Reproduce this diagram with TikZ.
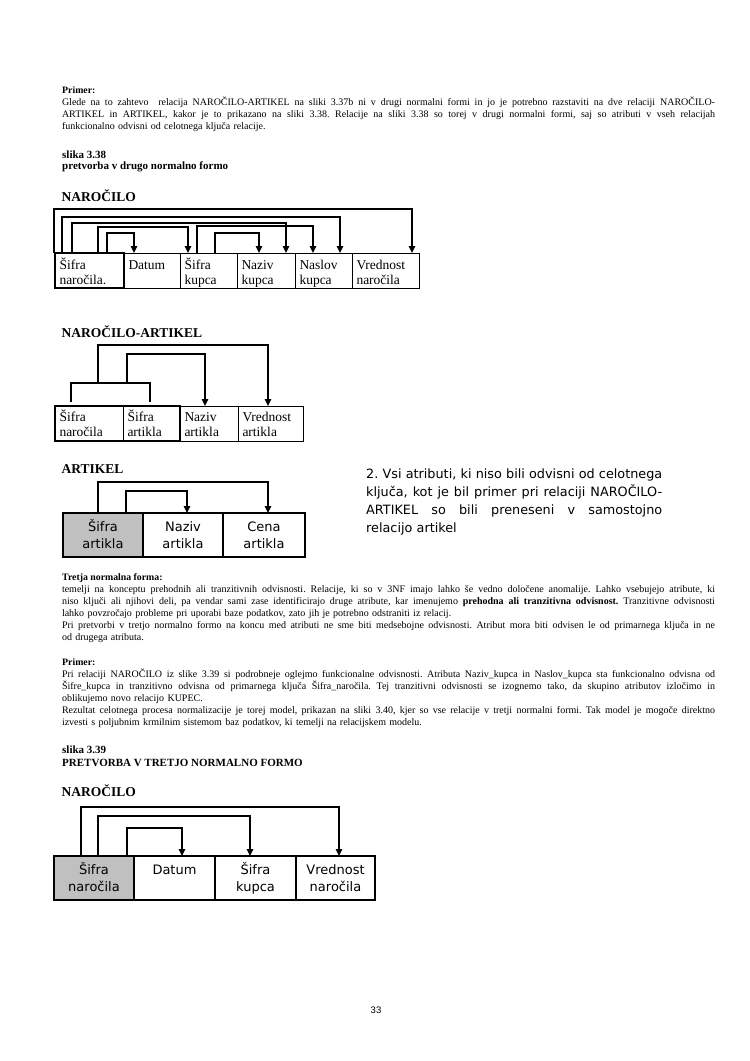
\documentclass[tikz,border=0pt]{standalone}
\usepackage{fontspec}
\setmainfont{Liberation Serif}
\newfontfamily\tah{DejaVu Sans}
\newfontfamily\ari{Liberation Sans}
\usetikzlibrary{arrows.meta,calc}
\definecolor{cellgray}{RGB}{192,192,192}
\newcommand\jline[1]{{\frenchspacing\spaceskip=\fontdimen2\font plus 1fill minus \fontdimen4\font\makebox[653pt][s]{#1}}}
\newcommand\jrline[1]{{\frenchspacing\spaceskip=\fontdimen2\font plus 1fill minus \fontdimen4\font\makebox[296pt][s]{#1}}}
\tikzset{
  body/.style={anchor=base west, inner sep=0pt, outer sep=0pt, text width=653pt, align=left, font=\fontsize{10}{12}\selectfont},
  hsmall/.style={anchor=base west, inner sep=0pt, font=\fontsize{9.8}{12}\selectfont\bfseries},
  head/.style={anchor=base west, inner sep=0pt, font=\fontsize{11}{12}\selectfont\bfseries},
  title/.style={anchor=base west, inner sep=0pt, font=\fontsize{13.5}{16}\selectfont\bfseries},
  rtext/.style={anchor=base west, inner sep=0pt, text width=296pt, align=left, font=\tah\fontsize{12.8}{18}\selectfont},
  cellT/.style={draw, line width=0.8pt, anchor=north west, outer sep=0pt, inner xsep=4.5pt, inner ysep=0pt, text height=16pt, text depth=19pt, align=left, font=\fontsize{13.5}{15}\selectfont},
  cellS/.style={draw, line width=1.2pt, anchor=north west, outer sep=0pt, inner xsep=0pt, inner ysep=0pt, text height=18.5pt, text depth=25.5pt, align=center, font=\tah\fontsize{13}{16.6}\selectfont},
  keycell/.style={fill=cellgray},
  conn/.style={line width=1.5pt, -{Triangle[width=6.5pt,length=7pt]}},
  link/.style={line width=1.5pt},
  thickbox/.style={draw, line width=2.8pt},
}
\begin{document}
\begin{tikzpicture}[x=1pt,y=-1pt]
\path[use as bounding box, fill=white] (0,0) rectangle (750,1061);

% ---------- top paragraph ----------
\node[hsmall] (pr1) at (62,93) {Primer:};
\node[body] (p1) at (62,105) {\jline{Glede na to zahtevo\ \ relacija NAROČILO-ARTIKEL na sliki 3.37b ni v drugi normalni formi in jo je potrebno razstaviti na dve relaciji NAROČILO-}\\
\jline{ARTIKEL in ARTIKEL, kakor je to prikazano na sliki 3.38. Relacije na sliki 3.38 so torej v drugi normalni formi, saj so atributi v vseh relacijah}\\
funkcionalno odvisni od celotnega ključa relacije.};

\node[head] (h1) at (62,158) {slika 3.38};
\node[head] (h2) at (62,169.5) {pretvorba v drugo normalno formo};

% ---------- diagram 1: NAROCILO ----------
\node[title] (t1) at (61.5,201) {NAROČILO};
\node[cellT, text width=60pt] (c1) at (55,253) {Šifra\\naročila.};
\node[cellT, text width=47pt] (c2) at (124,253) {Datum};
\node[cellT, text width=48pt] (c3) at (180,253) {Šifra\\kupca};
\node[cellT, text width=49pt] (c4) at (237,253) {Naziv\\kupca};
\node[cellT, text width=48pt] (c5) at (295,253) {Naslov\\kupca};
\node[cellT, text width=58pt] (c6) at (352,253) {Vrednost\\naročila};
\draw[thickbox] (c1.north west) rectangle (c1.south east);

\draw[conn] ($(c1.north west)+(-1,0)$) -- ++(0,-44) -| ($(c6.north west)+(60,0)$);
\draw[conn] ($(c1.north west)+(7,0)$) -- ++(0,-36) -| ($(c5.north west)+(45,0)$);
\draw[conn] ($(c1.north west)+(17,0)$) -- ++(0,-30) -| ($(c4.north west)+(49,0)$);
\draw[conn] ($(c1.north west)+(43,0)$) -- ++(0,-26) -| ($(c3.north west)+(8,0)$);
\draw[conn] ($(c1.north west)+(52,0)$) -- ++(0,-20) -| ($(c2.north west)+(10,0)$);
\draw[conn] ($(c3.north west)+(17,0)$) -- ++(0,-27) -| ($(c5.north west)+(18,0)$);
\draw[conn] ($(c3.north west)+(35,0)$) -- ++(0,-20) -| ($(c4.north west)+(22,0)$);

% ---------- diagram 2: NAROCILO-ARTIKEL ----------
\node[title] (t2) at (61.5,337) {NAROČILO-ARTIKEL};
\node[cellT, text width=59pt, text height=15pt, text depth=20pt] (d1) at (55,406) {Šifra\\naročila};
\node[cellT, text width=48pt, text height=15pt, text depth=20pt] (d2) at (123,406) {Šifra\\artikla};
\node[cellT, text width=49pt, text height=15pt, text depth=20pt] (d3) at (180,406) {Naziv\\artikla};
\node[cellT, text width=56pt, text height=15pt, text depth=20pt] (d4) at (238,406) {Vrednost\\artikla};
\draw[thickbox] (d1.north west) rectangle (d2.south east);

\coordinate (bl) at ($(d1.north west)+(16,-4)$);
\coordinate (brr) at ($(d2.north west)+(27,-4)$);
\coordinate (bj1) at ($(bl)+(27,-19)$);
\coordinate (bj2) at ($(bl)+(56,-19)$);
\draw[link] (bl) -- ++(0,-19) -| (brr);
\draw[conn] (bj1) -- ++(0,-38) -| ($(d4.north west)+(30,0)$);
\draw[conn] (bj2) -- ++(0,-29) -| ($(d3.north west)+(25,0)$);

% ---------- diagram 3: ARTIKEL ----------
\node[title] (t3) at (61.5,473.5) {ARTIKEL};
\node[cellS, keycell, text width=80pt] (e1) at (63,513) {Šifra\\artikla};
\node[cellS, text width=80pt] (e2) at (143,513) {Naziv\\artikla};
\node[cellS, text width=82pt] (e3) at (223,513) {Cena\\artikla};
\draw[conn] ($(e1.north west)+(35,0)$) -- ++(0,-31) -| ($(e3.north west)+(45,0)$);
\draw[conn] ($(e1.north west)+(63,0)$) -- ++(0,-22) -| ($(e2.north west)+(44,0)$);

\node[rtext] (r1) at (366,478) {\jrline{2. Vsi atributi, ki niso bili odvisni od celotnega}\\
\jrline{ključa, kot je bil primer pri relaciji NAROČILO-}\\
\jrline{ARTIKEL so bili preneseni v samostojno}\\
relacijo artikel};

% ---------- Tretja normalna forma ----------
\node[hsmall] (tn) at (62,580.5) {Tretja normalna forma:};
\node[body] (p2) at (62,592.5) {\jline{temelji na konceptu prehodnih ali tranzitivnih odvisnosti. Relacije, ki so v 3NF imajo lahko še vedno določene anomalije. Lahko vsebujejo atribute, ki}\\
\jline{niso ključi ali njihovi deli, pa vendar sami zase identificirajo druge atribute, kar imenujemo \textbf{prehodna ali tranzitivna odvisnost.} Tranzitivne odvisnosti}\\
lahko povzročajo probleme pri uporabi baze podatkov, zato jih je potrebno odstraniti iz relacij.\\
\jline{Pri pretvorbi v tretjo normalno formo na koncu med atributi ne sme biti medsebojne odvisnosti. Atribut mora biti odvisen le od primarnega ključa in ne}\\
od drugega atributa.};

% ---------- Primer 2 ----------
\node[hsmall] (pr2) at (62,665) {Primer:};
\node[body] (p3) at (62,677) {\jline{Pri relaciji NAROČILO iz slike 3.39 si podrobneje oglejmo funkcionalne odvisnosti. Atributa Naziv\_kupca in Naslov\_kupca sta funkcionalno odvisna od}\\
\jline{Šifre\_kupca in tranzitivno odvisna od primarnega ključa Šifra\_naročila. Tej tranzitivni odvisnosti se izognemo tako, da skupino atributov izločimo in}\\
oblikujemo novo relacijo KUPEC.\\
\jline{Rezultat celotnega procesa normalizacije je torej model, prikazan na sliki 3.40, kjer so vse relacije v tretji normalni formi. Tak model je mogoče direktno}\\
izvesti s poljubnim krmilnim sistemom baz podatkov, ki temelji na relacijskem modelu.};

\node[head] (h3) at (62,753.5) {slika 3.39};
\node[head] (h4) at (62,766.5) {PRETVORBA V TRETJO NORMALNO FORMO};

% ---------- diagram 4: NAROCILO (3NF) ----------
\node[title] (t4) at (61.5,796.5) {NAROČILO};
\node[cellS, keycell, text width=80pt] (f1) at (54,856) {Šifra\\naročila};
\node[cellS, text width=81pt] (f2) at (134,856) {Datum};
\node[cellS, text width=81pt] (f3) at (215,856) {Šifra\\kupca};
\node[cellS, text width=79pt] (f4) at (296,856) {Vrednost\\naročila};
\draw[conn] ($(f1.north west)+(27,0)$) -- ++(0,-49) -| ($(f4.north west)+(43,0)$);
\draw[conn] ($(f1.north west)+(44,0)$) -- ++(0,-40) -| ($(f3.north west)+(35,0)$);
\draw[conn] ($(f1.north west)+(73,0)$) -- ++(0,-28) -| ($(f2.north west)+(48,0)$);

% ---------- page number ----------
\node[anchor=base, inner sep=0pt, font=\ari\fontsize{9.5}{11}\selectfont] (pg) at (376,1013) {33};
\end{tikzpicture}
\end{document}
